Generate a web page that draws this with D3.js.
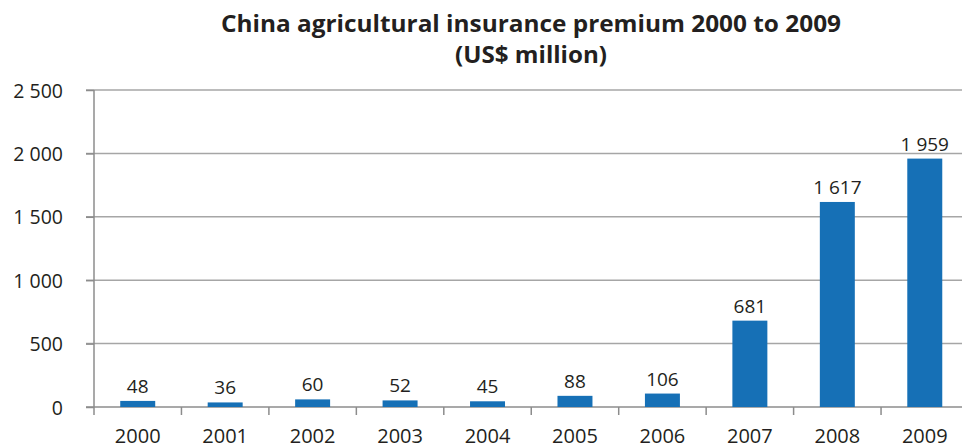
<!DOCTYPE html>
<html><head><meta charset="utf-8">
<script src="https://cdn.jsdelivr.net/npm/d3@7"></script>
<style>body{margin:0;background:#fff;}svg{display:block;font-family:"Open Sans",sans-serif;}</style>
</head><body>
<svg id="c" width="962" height="448"></svg>
<script>
const categories = ["2000","2001","2002","2003","2004","2005","2006","2007","2008","2009"];
const values = [48,36,60,52,45,88,106,681,1617,1959];
const yTicks = [0,500,1000,1500,2000,2500];
const titleLines = ["China agricultural insurance premium 2000 to 2009","(US$ million)"];

const svg = d3.select("#c");
const fmt = v => d3.format(",")(v).replace(/,/g, " ");
const x = d3.scaleBand().domain(categories).range([94, 968.5]).paddingInner(0.6).paddingOuter(0.3);
const y = d3.scaleLinear().domain([0,2500]).range([407, 90]);

// gridlines
svg.append("g").selectAll("line").data(yTicks.filter(d=>d>0)).join("line")
  .attr("x1",86).attr("x2",962).attr("y1",d=>y(d)).attr("y2",d=>y(d))
  .attr("stroke","#a6a6a6").attr("stroke-width",1.5);

// y axis
const ya = svg.append("g").attr("transform","translate(94,0)")
  .call(d3.axisLeft(y).tickValues(yTicks).tickFormat(fmt).tickSize(8));
ya.select(".domain").attr("stroke","#8c8c8c").attr("stroke-width",1.5).attr("d","M0,90V415");
ya.selectAll(".tick line").attr("stroke","#8c8c8c").attr("stroke-width",1.5);
ya.selectAll(".tick text").attr("x",-31).attr("dy","0.36em").attr("font-size",19.5)
  .attr("fill","#231f20").attr("font-family","'Open Sans',sans-serif");

// x axis
const xb = d3.scaleBand().domain(categories).range([94, 968.5]);
const xa = svg.append("g").attr("transform","translate(0,407)")
  .call(d3.axisBottom(xb).tickSize(0));
xa.select(".domain").attr("stroke","#8c8c8c").attr("stroke-width",1.5).attr("d","M86,0H962");
xa.selectAll(".tick text").attr("y",35.5).attr("dy",0).attr("font-size",20)
  .attr("fill","#231f20").attr("font-family","'Open Sans',sans-serif");
// separators between categories
svg.append("g").selectAll("line").data(categories.slice(1)).join("line")
  .attr("x1",d=>xb(d)).attr("x2",d=>xb(d)).attr("y1",407).attr("y2",415)
  .attr("stroke","#8c8c8c").attr("stroke-width",1.5);

// bars
svg.append("g").selectAll("rect").data(values).join("rect")
  .attr("x",(d,i)=>x(categories[i])).attr("width",x.bandwidth())
  .attr("y",d=>y(d)).attr("height",d=>y(0)-y(d)).attr("fill","#1670b6");

// value labels
svg.append("g").selectAll("text").data(values).join("text")
  .attr("x",(d,i)=>x(categories[i])+x.bandwidth()/2).attr("y",d=>y(d)-8)
  .attr("text-anchor","middle").attr("font-size",19).attr("fill","#231f20")
  .text(fmt);

// title
const tW = [620, 152];
svg.append("g").selectAll("text").data(titleLines).join("text")
  .attr("x",531).attr("y",(d,i)=>[32,63][i]).attr("text-anchor","middle")
  .attr("font-size",23.5).attr("font-weight","bold").attr("fill","#231f20")
  .attr("textLength",(d,i)=>tW[i]).attr("lengthAdjust","spacingAndGlyphs")
  .text(d=>d);
</script>
</body></html>
